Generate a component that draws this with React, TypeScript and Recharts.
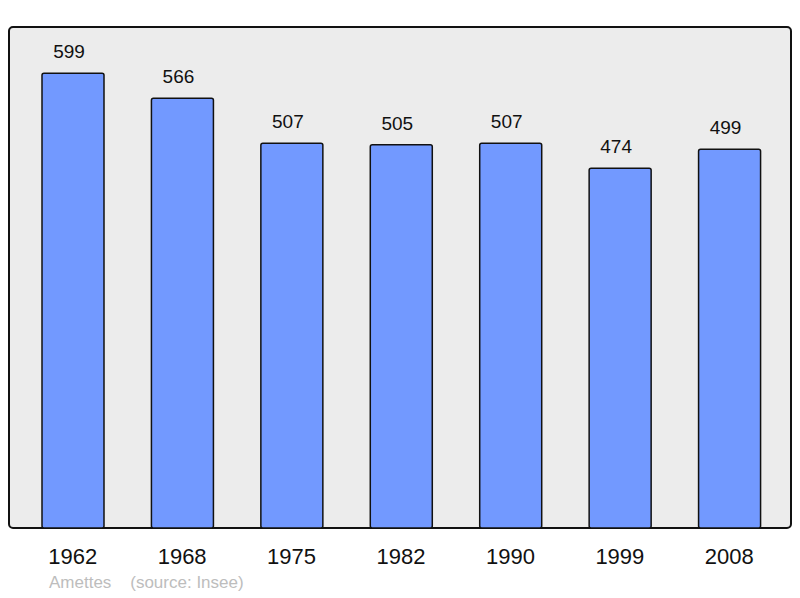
import React from 'react';
import { BarChart, Bar, XAxis, YAxis, LabelList, ReferenceArea } from 'recharts';

const years = ['1962', '1968', '1975', '1982', '1990', '1999', '2008'];
const population = [599, 566, 507, 505, 507, 474, 499];
const yDomain = [0, 660];

const data = years.map((y, i) => ({ year: y, pop: population[i] }));

const FONT = '"Liberation Sans", Arial, sans-serif';
const PAD_L = 9;
const PAD_R = 7;

const BoxShape = (props: any) => {
  const { x, y, width, height } = props;
  return (
    <rect x={x - PAD_L} y={y} width={width + PAD_L + PAD_R} height={height} rx={4} ry={4}
      fill="#ececec" stroke="#111" strokeWidth={2} />
  );
};

export default function App() {
  return (
    <div style={{ position: 'absolute', left: 0, top: 0, width: 800, height: 598, background: '#fff' }}>
      <BarChart width={800} height={598} data={data}
        margin={{ top: 27, right: 9 + PAD_R, left: 9 + PAD_L, bottom: 40 }} barCategoryGap={0}>
        <YAxis hide domain={yDomain} />
        <XAxis dataKey="year" height={30} axisLine={false} tickLine={false}
          tickMargin={14} interval={0}
          tick={{ fill: '#111', fontSize: 22, fontFamily: FONT }} />
        <ReferenceArea y1={0} y2={660} shape={BoxShape} ifOverflow="extendDomain" />
        <Bar dataKey="pop" fill="#7299ff" stroke="#111" strokeWidth={1.5}
          barSize={62} radius={2} isAnimationActive={false}>
          <LabelList dataKey="pop" position="top" offset={15} dx={-4}
            style={{ fill: '#111', fontSize: 19, fontFamily: FONT }} />
        </Bar>
      </BarChart>
      <div style={{ position: 'absolute', left: 49, top: 573, fontFamily: FONT, fontSize: 17,
        color: '#bdbdbd', whiteSpace: 'pre' }}>
        {'Amettes    (source: Insee)'}
      </div>
    </div>
  );
}
